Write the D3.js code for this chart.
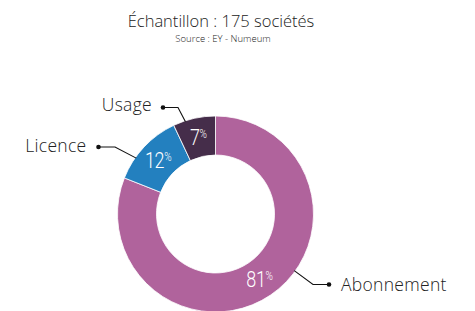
<!DOCTYPE html>
<html><head><meta charset="utf-8">
<script src="https://cdn.jsdelivr.net/npm/d3@7"></script>
<style>
body{margin:0;background:#fff;}
svg{display:block;}
</style></head>
<body>
<svg id="chart" width="475" height="311"></svg>
<script>
const categories = ["Abonnement", "Licence", "Usage"];
const values = [81, 12, 7];
const colors = ["#B0639C", "#2380BF", "#452D4A"];
const title = "Échantillon : 175 sociétés";
const source = "Source : EY - Numeum";

const W = 475, H = 311;
const cx = 215.5, cy = 214, rOuter = 98, rInner = 59;
const svg = d3.select("#chart");
const FONT = "'Open Sans', Lato, sans-serif";

svg.append("text").attr("x", 221).attr("y", 27).attr("text-anchor", "middle")
  .attr("font-family", FONT).attr("font-weight", 300)
  .attr("font-size", 16.5).attr("fill", "#222").text(title);
svg.append("text").attr("x", 223).attr("y", 41.5).attr("text-anchor", "middle")
  .attr("font-family", FONT).attr("font-weight", 300)
  .attr("font-size", 9.5).attr("fill", "#222").text(source);

const data = categories.map((c, i) => ({cat: c, value: values[i], color: colors[i]}));
const pie = d3.pie().value(d => d.value).sort(null);
const arcs = pie(data);
const arc = d3.arc().innerRadius(rInner).outerRadius(rOuter);

const g = svg.append("g").attr("transform", `translate(${cx},${cy})`);
g.selectAll("path").data(arcs).join("path")
  .attr("d", arc).attr("fill", d => d.data.color)
  .attr("stroke", "#fff").attr("stroke-width", 0.8);

// value labels (condensed)
const lbl = g.selectAll("text.val").data(arcs).join("text").attr("class", "val")
  .attr("transform", d => { const [x, y] = arc.centroid(d); return `translate(${x},${y + 8}) scale(0.8,1)`; })
  .attr("text-anchor", "middle")
  .attr("font-family", "Roboto, sans-serif").attr("font-weight", 300)
  .attr("fill", "#fff");
lbl.append("tspan").attr("font-size", 22.5).attr("letter-spacing", -0.5).text(d => d.data.value);
lbl.append("tspan").attr("font-size", 12.5).attr("dy", -7).text("%");

// leader lines: anchor angle offsets (layout) relative to segment mid-angle
const anchorShift = {Abonnement: -0.35, Licence: -0.14, Usage: -0.095};
const leaderCfg = {
  Abonnement: {side: 1, bend: [313, 284.5], dot: [329, 284.5], text: [341, 290.5]},
  Licence: {side: -1, bend: [115, 147], dot: [98.5, 147], text: [86.5, 152]},
  Usage: {side: -1, bend: [178, 107.5], dot: [163, 107.5], text: [152, 111]}
};
arcs.forEach(d => {
  const cfg = leaderCfg[d.data.cat];
  const a = (d.startAngle + d.endAngle) / 2 + anchorShift[d.data.cat];
  const px = cx + (rOuter - 1) * Math.sin(a), py = cy - (rOuter - 1) * Math.cos(a);
  svg.append("polyline")
    .attr("points", [[px, py], cfg.bend, cfg.dot].map(p => p.join(",")).join(" "))
    .attr("fill", "none").attr("stroke", "#111").attr("stroke-width", 1.1);
  svg.append("circle").attr("cx", cfg.dot[0]).attr("cy", cfg.dot[1]).attr("r", 2.3).attr("fill", "#111");
  svg.append("text").attr("x", cfg.text[0]).attr("y", cfg.text[1])
    .attr("text-anchor", cfg.side > 0 ? "start" : "end")
    .attr("font-family", FONT).attr("font-weight", 300).attr("font-size", 17.5)
    .attr("letter-spacing", 0.3)
    .attr("fill", "#222").text(d.data.cat);
});
</script>
</body></html>
